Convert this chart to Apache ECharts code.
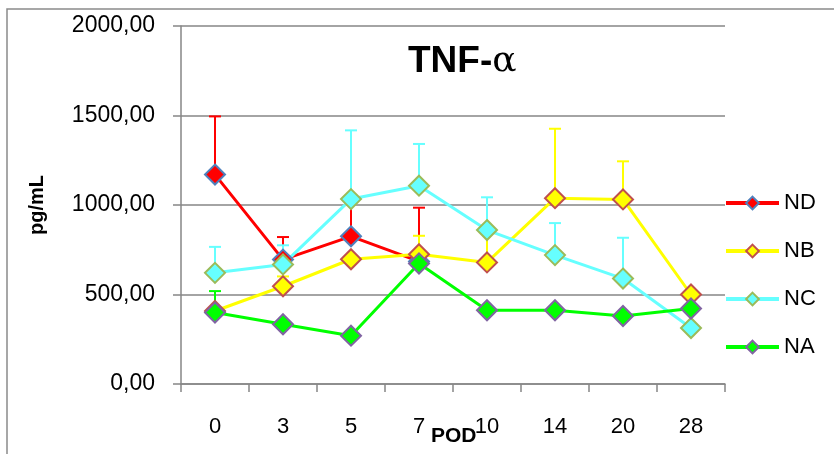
<!DOCTYPE html>
<html>
<head>
<meta charset="utf-8">
<script src="https://cdn.jsdelivr.net/npm/echarts@6/dist/echarts.min.js"></script>
<style>
  html, body { margin: 0; padding: 0; background: #fff; }
  #chart { width: 834px; height: 454px; }
</style>
</head>
<body>
<div id="chart"></div>
<script>
// 数据
const days = ['0', '3', '5', '7', '10', '14', '20', '28']
const yTicks = [0, 500, 1000, 1500, 2000]

const ndVals = [1170, 695, 825, 685, null, null, null, null]
const ndErr = [325, 126, 200, 300, 0, 0, 0, 0]
const nbVals = [408, 546, 697, 725, 679, 1038, 1031, 500]
const nbErr = [0, 55, 0, 103, 170, 388, 213, 0]
const ncVals = [621, 668, 1033, 1108, 860, 720, 589, 313]
const ncErr = [145, 107, 384, 233, 183, 179, 228, 0]
const naVals = [399, 334, 270, 673, 412, 412, 380, 422]
const naErr = [120, 0, 0, 0, 0, 0, 0, 0]

const groups = [
  { name: 'ND', vals: ndVals, err: ndErr, color: '#FF0000', border: '#4F81BD' },
  { name: 'NB', vals: nbVals, err: nbErr, color: '#FFFF00', border: '#C0504D' },
  { name: 'NC', vals: ncVals, err: ncErr, color: '#66FFFF', border: '#9BBB59' },
  { name: 'NA', vals: naVals, err: naErr, color: '#00FF00', border: '#8064A2' }
]

const font = 'Liberation Sans'
const chart = echarts.init(document.getElementById('chart'))

// 误差线（只画正方向）
const errorSeries = groups.map(g => ({
  name: g.name + ' err',
  type: 'custom',
  z: 1,
  silent: true,
  data: g.vals.map((v, i) => [i, v, g.err[i]]).filter(d => d[1] != null && d[2] > 0),
  renderItem: (params, api) => {
    const base = api.coord([api.value(0), api.value(1)])
    const top = api.coord([api.value(0), api.value(1) + api.value(2)])
    const style = { stroke: g.color, lineWidth: 2 }
    return {
      type: 'group',
      children: [
        { type: 'line', shape: { x1: base[0], y1: base[1], x2: top[0], y2: top[1] }, style },
        { type: 'line', shape: { x1: top[0] - 6, y1: top[1], x2: top[0] + 6, y2: top[1] }, style }
      ]
    }
  }
}))

const lineSeries = groups.map(g => ({
  name: g.name,
  type: 'line',
  z: 3,
  data: g.vals,
  symbol: 'diamond',
  symbolSize: 20,
  showAllSymbol: true,
  connectNulls: false,
  lineStyle: { color: g.color, width: 3 },
  itemStyle: { color: g.color, borderColor: g.border, borderWidth: 2 }
}))

const option = {
  animation: false,
  title: {
    text: '{a|TNF-}{b|α}',
    left: 403,
    top: 38,
    textStyle: {
      fontWeight: 'normal',
      rich: {
        a: { fontFamily: font, fontWeight: 'bold', fontSize: 37, color: '#000' },
        b: { fontFamily: 'DejaVu Serif', fontWeight: 'normal', fontSize: 36, color: '#000' }
      }
    }
  },
  graphic: [
    {
      type: 'rect',
      shape: { x: 7, y: 9, width: 900, height: 500 },
      style: { fill: 'none', stroke: '#8a8a8a', lineWidth: 1.5 },
      z: -1
    },
    {
      type: 'text',
      left: 431,
      top: 426,
      style: { text: 'POD', font: 'bold 21px ' + font, fill: '#000' }
    }
  ],
  legend: {
    orient: 'vertical',
    left: 724,
    top: 192,
    padding: 0,
    itemWidth: 53,
    itemHeight: 16,
    itemGap: 26,
    data: groups.map(g => g.name),
    lineStyle: { width: 4 },
    textStyle: { fontFamily: font, fontSize: 22, color: '#000', padding: [0, 0, 0, 0] }
  },
  grid: { left: 181, right: 109, top: 26, bottom: 70 },
  xAxis: {
    type: 'category',
    data: days,
    boundaryGap: true,
    axisLine: { lineStyle: { color: '#868686', width: 1.5 } },
    axisTick: { show: true, length: 8, lineStyle: { color: '#868686', width: 1.5 } },
    axisLabel: { margin: 32, fontFamily: font, fontSize: 22, color: '#000' }
  },
  yAxis: {
    type: 'value',
    min: yTicks[0],
    max: yTicks[yTicks.length - 1],
    interval: 500,
    name: 'pg/mL',
    nameLocation: 'middle',
    nameGap: 134,
    nameTextStyle: { fontFamily: font, fontWeight: 'bold', fontSize: 20, color: '#000' },
    axisLine: { show: true, lineStyle: { color: '#868686', width: 1.5 } },
    axisTick: { show: true, length: 8, lineStyle: { color: '#868686', width: 1.5 } },
    splitLine: { lineStyle: { color: '#868686', width: 1.5 } },
    axisLabel: {
      margin: 26,
      fontFamily: font,
      fontSize: 23,
      color: '#000',
      formatter: v => v.toFixed(2).replace('.', ',')
    }
  },
  series: [...errorSeries, ...lineSeries]
}

chart.setOption(option)
</script>
</body>
</html>
